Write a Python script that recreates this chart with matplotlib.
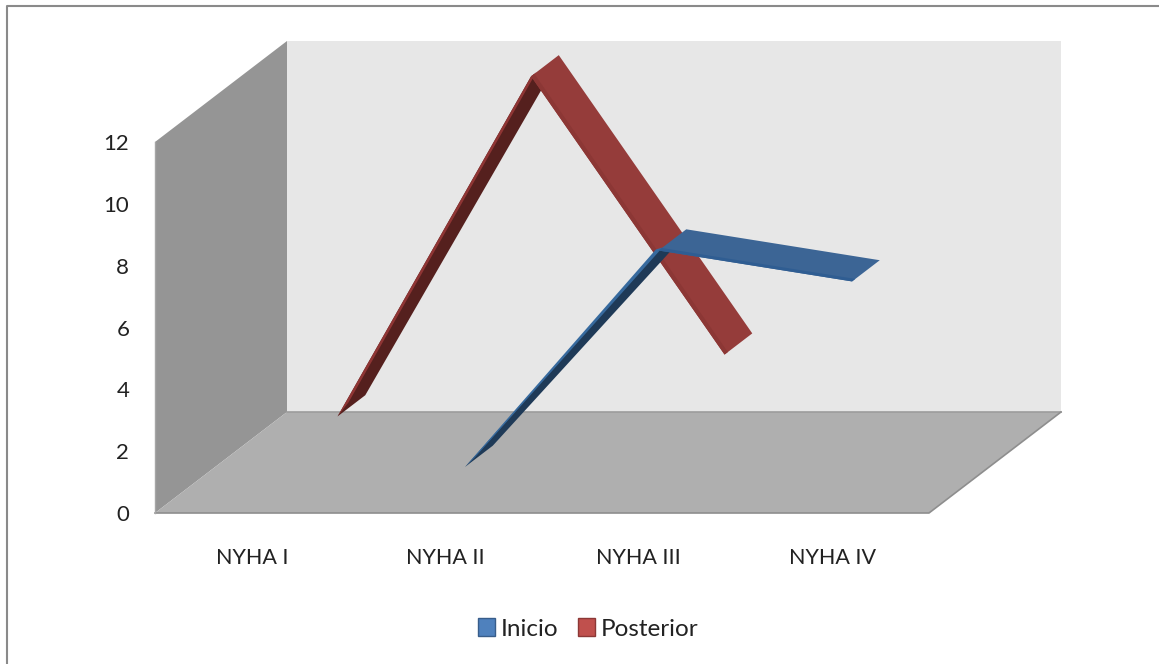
import numpy as np
import matplotlib
matplotlib.use('Agg')
import matplotlib.pyplot as plt
from matplotlib.lines import Line2D
from matplotlib.patches import Patch, Polygon

categories = ['NYHA I', 'NYHA II', 'NYHA III', 'NYHA IV']
inicio = [np.nan, 1, 8, 7]
posterior = [1, 12, 3, np.nan]
y_ticks = [0, 2, 4, 6, 8, 10, 12]

plt.rcParams['font.family'] = ['Lato', 'DejaVu Sans']

W, H = 1159, 664
fig = plt.figure(figsize=(W / 100, H / 100), dpi=100, facecolor='white')
# front plane of the box, the depth gets sheared on top of it
ax = fig.add_axes([155 / W, (H - 513) / H, 774 / W, 371 / H])
ax.set_xlim(0, 4)
ax.set_ylim(0, 12)
ax.patch.set_visible(False)
for s in ax.spines.values():
    s.set_visible(False)

# full depth of the box in axis units
depth_x = 132 / 193.5
depth_y = 101 / (371 / 12)


def proj(x, y, d):
    return (x + d * depth_x, y + d * depth_y)


def face(pts, color, z=1):
    ax.add_patch(Polygon(pts, closed=True, facecolor=color, edgecolor='none',
                         zorder=z, clip_on=False))


# walls and floor
face([proj(0, 0, 1), proj(4, 0, 1), proj(4, 12, 1), proj(0, 12, 1)], '#e7e7e7', z=1)
face([proj(0, 0, 0), proj(0, 0, 1), proj(0, 12, 1), proj(0, 12, 0)], '#959595', z=1)
face([proj(0, 0, 0), proj(4, 0, 0), proj(4, 0, 1), proj(0, 0, 1)], '#afafaf', z=2)
ax.plot(*zip(proj(0, 0, 1), proj(4, 0, 1)), color='#9c9c9c', lw=1.2, zorder=3, clip_on=False)
ax.plot(*zip(proj(0, 0, 0), proj(4, 0, 0), proj(4, 0, 1)), color='#8e8e8e', lw=1.2, zorder=3, clip_on=False)
ax.plot(*zip(proj(0, 12, 0), proj(0, 0, 0)), color='#a6a6a6', lw=1.0, zorder=3, clip_on=False)


def ribbon(values, d0, d1, top, lip, dark, dark_lip, z, lip_out=0.0, lip_in=0.04, lift=0.0):
    xs = np.arange(len(values)) + 0.5
    # draw left to right so each piece covers the joint before it
    for i in range(len(values) - 1):
        a, b = values[i], values[i + 1]
        if np.isnan(a) or np.isnan(b):
            continue
        x0, x1 = xs[i], xs[i + 1]
        if b > a:
            # rising piece, we look at the underside, lip tapers into the start point
            face([proj(x0, a, d0), proj(x1, b, d0), proj(x1, b - 0.15, d1), proj(x0, a, d1)],
                 dark, z=z + i * 0.1)
            f = 0.03
            face([proj(x0, a, d0), proj(x1, b + lift, d0 - lip_out),
                  proj(x1, b, d0 + lip_in), proj(x0 + f, a + f * (b - a), d0 + lip_in)],
                 dark_lip, z=z + i * 0.1 + 0.01)
        else:
            face([proj(x0, a, d0), proj(x1, b, d0), proj(x1, b, d1), proj(x0, a, d1)],
                 top, z=z + i * 0.1)
            face([proj(x0, a, d0), proj(x1, b, d0), proj(x1, b, d0 + 0.025), proj(x0, a, d0 + 0.025)],
                 lip, z=z + i * 0.1 + 0.01)


ribbon(posterior, 0.65, 0.86, '#953c3a', '#8c3735', '#55201e', '#8f3534', 5)
ribbon(inicio, 0.15, 0.36, '#3c6595', '#2f5d92', '#1f3a57', '#376a9e', 7,
       lip_out=0.02, lip_in=0.03, lift=0.1)

ax.set_yticks(y_ticks)
ax.set_xticks(np.arange(len(categories)) + 0.5)
ax.set_xticklabels(categories)
ax.tick_params(axis='y', length=0, pad=18.5, labelsize=16, labelcolor='#222222')
ax.tick_params(axis='x', length=0, pad=25, labelsize=15.5, labelcolor='#222222')

handles = [Patch(facecolor='#4f81bd', edgecolor='#385d8a', label='Inicio'),
           Patch(facecolor='#c0504d', edgecolor='#8c3836', label='Posterior')]
fig.legend(handles=handles, loc='center', bbox_to_anchor=(588 / W, (H - 629) / H),
           ncol=2, frameon=False, fontsize=17.5, handlelength=0.7, handleheight=0.7,
           handletextpad=0.25, columnspacing=0.8, labelcolor='#222222')

# thin grey frame along the top and the left
fig.add_artist(Line2D([7 / W, 7 / W, 1], [0, (H - 6) / H, (H - 6) / H],
                      color='#8a8a8a', lw=1.5, transform=fig.transFigure))

fig.savefig('out.png', dpi=100)
